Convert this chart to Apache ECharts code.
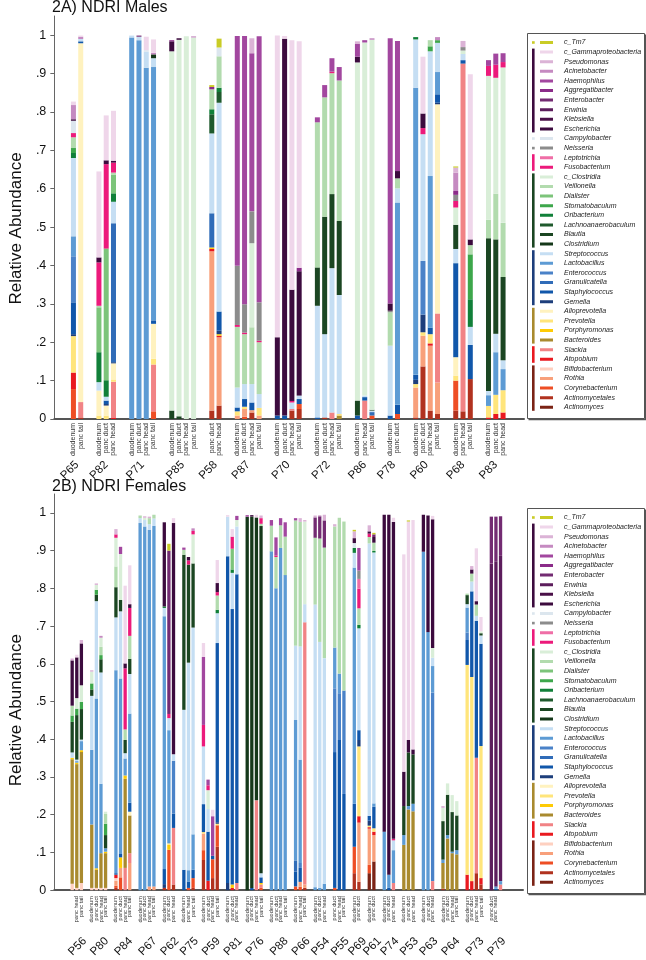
<!DOCTYPE html>
<html><head><meta charset="utf-8">
<script src="https://cdn.jsdelivr.net/npm/echarts@6/dist/echarts.min.js"></script>
<style>html,body{margin:0;padding:0;background:#fff}#c{width:646px;height:960px}</style>
</head><body><div id="c"></div>
<script>
// ---------- taxa (legend order, top of stack first) ----------
const taxa = ['c_Tm7','c_Gammaproteobacteria','Pseudomonas','Acinetobacter','Haemophilus','Aggregatibacter','Enterobacter','Erwinia','Klebsiella','Escherichia','Campylobacter','Neisseria','Leptotrichia','Fusobacterium','c_Clostridia','Veillonella','Dialister','Stomatobaculum','Oribacterium','Lachnoanaerobaculum','Blautia','Clostridium','Streptococcus','Lactobacillus','Enterococcus','Granulicatella','Staphylococcus','Gemella','Alloprevotella','Prevotella','Porphyromonas','Bacteroides','Slackia','Atopobium','Bifidobacterium','Rothia','Corynebacterium','Actinomycetales','Actinomyces'];
const codes = ['Tm7','Gam','Pse','Aci','Hae','Agg','Ent','Erw','Kle','Esc','Cam','Nei','Lep','Fus','cCl','Vei','Dia','Sto','Ori','Lch','Bla','Clo','Str','Lcb','Enc','Gra','Sta','Gem','All','Pre','Por','Bac','Sla','Ato','Bif','Rot','Cor','Amy','Act'];
const colors = ['#c9cc26','#efd6ea','#dbb3d6','#c58ac1','#a2479f','#8b2b89','#732b72','#5c1d5c','#4a1048','#3c0b3e','#dce6ee','#8c8c8c','#ef6ea6','#ec1a7b','#d9eed8','#b2dbae','#7cc47a','#3da74b','#118039','#1f5a2d','#1b4622','#15381a','#c5def3','#5d9bd4','#4a82c8','#306cb8','#1157aa','#1d3e7b','#fff2bf','#ffe57b','#fecb05','#a98a2e','#f18385','#e9191f','#fed0c0','#f8a07b','#ee4e25','#b1321f','#7b2315'];
const yTicks = [0,0.1,0.2,0.3,0.4,0.5,0.6,0.7,0.8,0.9,1];

// ---------- 2A) Males ----------
const maleSamples = ['P65','P82','P71','P85','P58','P87','P70','P72','P86','P78','P60','P68','P83'];
const maleTissues = [
 ['duodenum','panc tail'],
 ['duodenum','panc duct','panc head'],
 ['duodenum','panc duct','panc head','panc tail'],
 ['duodenum','panc duct','panc head','panc tail'],
 ['panc duct','panc head'],
 ['duodenum','panc duct','panc head','panc tail'],
 ['duodenum','panc duct','panc head','panc tail'],
 ['duodenum','panc duct','panc head','panc tail'],
 ['duodenum','panc head','panc tail'],
 ['duodenum','panc duct'],
 ['duodenum','panc duct','panc head','panc tail'],
 ['duodenum','panc head','panc tail'],
 ['duodenum','panc duct','panc head']
];
const maleValues = [
 [{Cor:.078,Ato:.043,Pre:.095,Gem:.005,Sta:.083,Enc:.12,Lcb:.052,Str:.204,Ori:.013,Sto:.013,Vei:.028,Fus:.011,Cam:.032,Esc:.004,Aci:.037,Gam:.009},
  {Amy:.004,Sla:.04,All:.935,Sta:.005,Str:.006,Aci:.006,Gam:.003}],
 [{Pre:.009,All:.065,Str:.022,Ori:.078,Dia:.117,Vei:.004,Fus:.113,Esc:.013,Gam:.224},
  {Pre:.009,All:.026,Gem:.004,Sta:.009,Str:.01,Ori:.043,Dia:.343,Fus:.22,Esc:.01,Gam:.117},
  {Ato:.004,Sla:.093,Pre:.006,All:.042,Gem:.003,Gra:.362,Str:.056,Ori:.022,Dia:.048,Vei:.006,Fus:.026,Esc:.005,Gam:.13}],
 [{Lcb:.994,Str:.005},
  {Lcb:.987,Str:.009,Ent:.003},
  {Lcb:.915,Str:.042,Cam:.004,Gam:.035},
  {Cor:.02,Sla:.122,Pre:.015,All:.091,Sta:.009,Lcb:.66,Str:.023,Clo:.01,Aci:.004,Gam:.035}],
 [{Bla:.022,cCl:.936,Esc:.026,Agg:.003},
  {Bla:.007,cCl:.981,Esc:.004},
  {cCl:.997},
  {cCl:.994,Aci:.003}],
 [{Amy:.022,Rot:.415,Ato:.006,Por:.004,Gra:.089,Str:.208,Lch:.05,Ori:.013,Vei:.052,Agg:.006,Tm7:.005},
  {Amy:.035,Rot:.178,Ato:.004,Por:.004,Gem:.009,Sta:.05,Str:.544,Lch:.028,Ori:.011,Vei:.082,Cam:.023,Tm7:.023}],
 [{Rot:.009,Pre:.011,Sta:.01,Str:.052,Vei:.158,Fus:.005,Nei:.154,Hae:.599},
  {Cor:.006,Rot:.02,Pre:.006,Sta:.02,Str:.039,Vei:.13,Fus:.004,Nei:.074,Hae:.699},
  {Amy:.017,Rot:.006,Sta:.02,Str:.048,Vei:.148,cCl:.219,Nei:.083,Hae:.412,Pse:.039},
  {Rot:.009,Pre:.02,Str:.036,Vei:.135,Fus:.004,Nei:.1,Hae:.693}],
 [{Sta:.009,Esc:.204,Gam:.786},
  {Sta:.009,Esc:.982,Gam:.007},
  {Amy:.022,Sla:.004,Str:.017,Fus:.004,Esc:.29,Gam:.65},
  {Amy:.026,Cor:.013,Sta:.013,Str:.009,Esc:.324,Agg:.009,Gam:.59}],
 [{Sta:.004,Str:.291,Bla:.1,Vei:.378,Hae:.013},
  {Amy:.004,Str:.217,Bla:.306,Vei:.311,Hae:.032},
  {Sla:.017,Str:.376,Bla:.193,Vei:.315,Fus:.004,Hae:.035},
  {Bac:.009,Pre:.004,Str:.31,Bla:.193,Vei:.366,Hae:.035}],
 [{Sta:.009,Bla:.039,cCl:.881,Esc:.015,Hae:.033,Pse:.007},
  {Sla:.048,Sta:.009,Str:.004,cCl:.92,Hae:.006},
  {Cor:.009,Gra:.009,Str:.004,Clo:.002,cCl:.964,Aci:.004}],
 [{Sta:.009,Str:.182,Vei:.087,Nei:.004,Esc:.019,Hae:.691},
  {Cor:.013,Sta:.024,Lcb:.527,Str:.037,Vei:.026,Esc:.019,Hae:.339}],
 [{Amy:.004,Rot:.078,Pre:.009,Gem:.011,Sta:.013,Lcb:.748,Str:.126,Ori:.006},
  {Amy:.137,Rot:.08,Pre:.009,Gem:.046,Enc:.14,Str:.33,Fus:.016,Esc:.038,Gam:.148},
  {Amy:.022,Rot:.169,Ato:.006,Pre:.024,Sta:.017,Lcb:.395,Str:.325,Sto:.013,Vei:.016},
  {Amy:.013,Rot:.082,Sla:.18,All:.545,Gem:.004,Sta:.022,Lcb:.058,Str:.076,Sto:.007,Aci:.008}],
 [{Amy:.022,Cor:.078,Pre:.013,All:.048,Sta:.245,Str:.037,Bla:.063,cCl:.045,Fus:.017,Nei:.016,Agg:.01,Aci:.048,Pse:.013,Tm7:.003},
  {Amy:.02,Sla:.906,Sta:.009,Str:.016,cCl:.009,Nei:.009,Pse:.016},
  {Amy:.104,Sta:.089,Str:.047,Ori:.072,Sto:.117,Vei:.024,Esc:.015,Gam:.43}],
 [{Ato:.004,Pre:.03,Lcb:.028,Str:.011,Bla:.398,Vei:.048,cCl:.375,Fus:.026,Hae:.015},
  {Ato:.013,Pre:.05,Lcb:.111,Str:.048,Bla:.246,Vei:.119,cCl:.302,Fus:.034,Hae:.029},
  {Ato:.017,Pre:.058,Lcb:.055,Str:.023,Bla:.217,Vei:.141,cCl:.405,Fus:.014,Hae:.023}]
];

// ---------- 2B) Females ----------
const femaleSamples = ['P56','P80','P84','P67','P62','P75','P59','P81','P76','P88','P66','P54','P55','P69','P61','P74','P53','P63','P64','P73','P79'];
const femaleTissues = [
 ['panc duct','panc head','panc tail'],
 ['duodenum','panc duct','panc head','panc tail'],
 ['duodenum','panc duct','panc head','panc tail'],
 ['duodenum','panc duct','panc head','panc tail'],
 ['duodenum','panc duct','panc head'],
 ['duodenum','panc head','panc tail'],
 ['duodenum','panc duct','panc head','panc tail'],
 ['duodenum','panc duct','panc head'],
 ['duodenum','panc duct','panc head','panc tail'],
 ['duodenum','panc duct','panc head','panc tail'],
 ['duodenum','panc head','panc tail'],
 ['duodenum','panc duct','panc head'],
 ['panc duct','panc head','panc tail'],
 ['duodenum','panc duct'],
 ['duodenum','panc duct'],
 ['duodenum','panc duct','panc head'],
 ['duodenum','panc duct','panc head'],
 ['duodenum','panc duct','panc head'],
 ['duodenum','panc duct','panc head','panc tail'],
 ['duodenum','panc duct','panc head','panc tail'],
 ['panc duct','panc head','panc tail']
];
const femaleValues = [
 [{Bif:.017,Bac:.33,Por:.004,Str:.014,Bla:.081,Sto:.017,Vei:.026,Esc:.12,Pse:.005},
  {Bif:.006,Bac:.328,Por:.004,Lcb:.004,Str:.004,Bla:.118,Sto:.017,cCl:.028,Esc:.108,Gam:.007},
  {Bif:.019,Bac:.347,Por:.005,Lcb:.024,Str:.004,Bla:.081,Sto:.019,cCl:.044,Esc:.111,Pse:.009}],
 [{Bif:.006,Bac:.168,Lcb:.198,Str:.143,Bla:.017,Sto:.016,cCl:.031,Pse:.004},
  {Bif:.006,Bac:.048,Por:.004,Lcb:.45,Str:.258,Bla:.017,Sto:.013,cCl:.013,Pse:.004},
  {Bif:.006,Bac:.092,Lcb:.184,Str:.295,Bla:.035,Sto:.011,Vei:.022,cCl:.024,Aci:.005},
  {Bif:.006,Bac:.092,Por:.004,Lcb:.009,Bla:.035,Sto:.03,Vei:.026,cCl:.006}],
 [{Amy:.006,Cor:.006,Rot:.013,Bif:.007,Ato:.009,Sta:.004,Lcb:.538,Str:.14,Bla:.08,Vei:.055,cCl:.076,Fus:.009,Pse:.014},
  {Cor:.034,Rot:.025,Por:.028,Sta:.009,Lcb:.465,Str:.178,Bla:.03,cCl:.122,Hae:.019},
  {Sla:.059,Bac:.236,Por:.009,Lcb:.045,Str:.014,Bla:.035,Vei:.028,Fus:.162,Esc:.013,Gam:.206},
  {Rot:.072,Sla:.026,Bac:.1,All:.01,Sta:.024,Lcb:.236,Str:.105,Bla:.04,Vei:.061,Fus:.074,Esc:.01,Gam:.103}],
 [{Lcb:.973,Str:.013,Vei:.007},
  {Lcb:.964,Str:.017,cCl:.006,Pse:.004},
  {Rot:.01,Lcb:.945,Str:.015,Vei:.016,Pse:.004},
  {Rot:.01,Lcb:.956,Str:.019,Vei:.01}],
 [{Amy:.006,Gem:.01,Sta:.04,Lcb:.67,Str:.022,Ori:.004,Esc:.223},
  {Cor:.107,Por:.013,Pre:.004,Lcb:.3,Str:.032,Fus:.011,Ent:.433,Tm7:.018},
  {Amy:.015,Sla:.15,Sta:.038,Enc:.14,Str:.017,Esc:.613,Gam:.013}],
 [{Sta:.054,Str:.424,Bla:.411,Vei:.013,Hae:.006},
  {Cor:.006,Sta:.017,Lcb:.03,Str:.55,Bla:.26,Fus:.011,Esc:.009},
  {Amy:.006,Cor:.026,Sta:.022,Lcb:.094,Str:.548,Bla:.17,cCl:.077,Fus:.009,Aci:.007}],
 [{Amy:.08,Cor:.026,Rot:.044,Pre:.004,Sta:.074,Str:.153,Fus:.057,Hae:.18,Gam:.037},
  {Ato:.025,Sta:.13,Str:.06,cCl:.05,Fus:.013,Hae:.015},
  {Amy:.032,Cor:.05,Sta:.009,Hae:.105,Gam:.017},
  {Amy:.115,Cor:.057,Pre:.004,Gem:.004,Sta:.475,Str:.079,Ori:.009,Vei:.038,Fus:.009,Esc:.024,Gam:.061}],
 [{Gem:.019,Sta:.866,Str:.105,Gam:.004},
  {Ato:.006,Por:.009,Sta:.73,Str:.096,Ori:.009,Dia:.055,Fus:.032,Gam:.02},
  {Sla:.019,Sta:.818,Str:.127,cCl:.017,Hae:.011}],
 [{Clo:.99,Hae:.004},
  {Sta:.006,Clo:.984,Esc:.004},
  {Sla:.238,Clo:.75,Gam:.007},
  {Cor:.006,Sla:.009,Por:.004,Sta:.015,Str:.011,Clo:.92,Vei:.006,Fus:.015,Pse:.007}],
 [{Lcb:.898,Vei:.068,Hae:.015},
  {Lcb:.8,Vei:.083,Fus:.004,Hae:.048},
  {Lcb:.907,Vei:.06,Hae:.019},
  {Lcb:.835,Vei:.102,Hae:.038}],
 [{Cor:.01,Sta:.039,Gra:.03,Lcb:.372,Str:.197,Vei:.332,Hae:.006},
  {Cor:.009,Rot:.013,Sta:.037,Enc:.013,Lcb:.274,Str:.3,Vei:.33,Pse:.01},
  {Amy:.006,Rot:.009,Sla:.695,Str:.048,cCl:.219,Pse:.004}],
 [{Lcb:.008,Str:.749,Vei:.177,Ent:.054,Pse:.005},
  {Lcb:.006,Str:.652,Vei:.274,Ent:.059,Pse:.003},
  {Lcb:.017,Str:.598,Vei:.293,Ent:.072,Pse:.015}],
 [{Cor:.006,Sta:.36,Enc:.169,Lcb:.108,Vei:.321,Pse:.006},
  {Sta:.398,Enc:.124,Lcb:.052,Vei:.413},
  {Sta:.255,Enc:.274,Vei:.448}],
 [{Amy:.045,Cor:.07,Sta:.114,Lcb:.626,Str:.039,Ori:.013,Cam:.013,Esc:.013,Pse:.018,Tm7:.004},
  {Amy:.022,Rot:.157,Ato:.017,Pre:.185,Gem:.017,Sta:.026,Str:.27,Ori:.009,Vei:.044,Fus:.052,Lep:.026,Nei:.022,Hae:.06}],
 [{Act:.045,Cor:.022,Rot:.096,Ato:.004,Pre:.004,Gem:.013,Sta:.013,Str:.722,Vei:.017,Fus:.009,Esc:.006,Pse:.016},
  {Act:.076,Rot:.07,Ato:.009,Pre:.009,Sta:.057,Lcb:.009,Str:.665,Ori:.004,Vei:.022,Esc:.015,Ent:.007,Tm7:.004}],
 [{Lcb:.155,Esc:.84},
  {Sta:.006,Lcb:.035,Esc:.954},
  {Sla:.019,Lcb:.087,Str:.026,Fus:.004,Esc:.84,Gam:.011}],
 [{Bac:.12,Lcb:.026,Bla:.077,Esc:.091,Gam:.576},
  {Bac:.214,Lcb:.009,Bla:.142,Esc:.033,Gam:.579,Tm7:.003},
  {Bac:.209,Lcb:.02,Bla:.131,Esc:.013,Gam:.608}],
 [{Lcb:.897,Esc:.098},
  {Lcb:.684,Esc:.309},
  {Sla:.024,Enc:.5,Lcb:.07,Str:.022,cCl:.026,Esc:.341,Gam:.009}],
 [{Amy:.004,Bac:.068,Lcb:.009,Bla:.102,cCl:.035,Pse:.005},
  {Bac:.137,Lcb:.009,Bla:.107,cCl:.03},
  {Bac:.098,Lcb:.004,Bla:.105,cCl:.045},
  {Bac:.095,Lcb:.011,Bla:.092,cCl:.038}],
 [{Ato:.041,Pre:.556,Sta:.066,Enc:.02,Lcb:.066,Str:.009,Bla:.024,Vei:.004},
  {Ato:.024,Pre:.541,Sta:.227,Str:.026,Vei:.021,Esc:.011,Pse:.009},
  {Amy:.045,Sla:.306,Sta:.363,Str:.013,Vei:.03,Esc:.009,Gam:.14},
  {Amy:.015,Ato:.017,Pre:.35,Sta:.271,Str:.022,Bla:.006,cCl:.005,Gam:.038}],
 [{Ent:.124,Erw:.866},
  {Sta:.004,Lcb:.006,Ent:.118,Erw:.862},
  {Sla:.015,Lcb:.009,Ent:.105,Erw:.862}]
];

// ---------- layout helpers ----------
const FONT = '"Liberation Sans", Arial, sans-serif';
function build(samples, tissues, values, lay) {
  const cats = [], tissueLab = [], sampleLab = [], barVals = [];
  const push = (t, v) => { cats.push('c' + cats.length); tissueLab.push(t); sampleLab.push(''); barVals.push(v); };
  for (let i = 0; i < lay.lead; i++) push('', null);
  samples.forEach((s, gi) => {
    if (gi > 0) for (let k = 0; k < lay.gap - 1; k++) push('', null);
    const start = cats.length;
    tissues[gi].forEach((t, bi) => {
      if (bi > 0) for (let k = 0; k < lay.step - 1; k++) push('', null);
      push(t, values[gi][bi]);
    });
    const n = tissues[gi].length;
    sampleLab[start + lay.step * (n - 1) / 2 + lay.shift] = s;
  });
  for (let i = 0; i < lay.trail; i++) push('', null);
  while (sampleLab.length < cats.length) sampleLab.push('');
  return { cats, tissueLab, sampleLab, barVals };
}

const panels = [
  { d: build(maleSamples, maleTissues, maleValues, {lead:10, step:4, gap:10, trail:11, shift:0}),
    grid: {left:41, top:16, width:483, height:403}, barWidth:5, tFont:7, tMargin:4, sOffset:42, sFont:11.5, namePad:22 },
  { d: build(femaleSamples, femaleTissues, femaleValues, {lead:15, step:4, gap:9, trail:19, shift:7}),
    grid: {left:41, top:494, width:482, height:400}, barWidth:3.3, tFont:5.6, tMargin:6, sOffset:47, sFont:11.5, namePad:36 }
];

const grids = [], xAxes = [], yAxes = [], series = [];
panels.forEach((p, pi) => {
  grids.push(p.grid);
  const d = p.d;
  xAxes.push({
    type:'category', gridIndex:pi, data:d.cats, boundaryGap:true,
    axisLine:{show:true, lineStyle:{color:'#555', width:2}}, axisTick:{show:false},
    axisLabel:{rotate:90, fontSize:p.tFont, color:'#333', fontFamily:FONT, margin:p.tMargin,
      interval:(i)=>d.tissueLab[i] !== '', formatter:(v, i)=>d.tissueLab[i]}
  });
  xAxes.push({
    type:'category', gridIndex:pi, data:d.cats, boundaryGap:true, position:'bottom', offset:p.sOffset,
    axisLine:{show:false}, axisTick:{show:false},
    axisLabel:{rotate:45, fontSize:p.sFont, color:'#111', fontFamily:FONT, margin:2,
      interval:(i)=>d.sampleLab[i] !== '', formatter:(v, i)=>d.sampleLab[i]}
  });
  yAxes.push({
    type:'value', gridIndex:pi, min:0, max:1.05, splitLine:{show:false},
    axisLine:{show:true, lineStyle:{color:'#666', width:1}},
    axisTick:{show:true, length:4, lineStyle:{color:'#666'}, customValues:yTicks},
    axisLabel:{customValues:yTicks, fontSize:12.5, color:'#111', fontFamily:FONT, margin:8,
      formatter:(v)=> v === 0 ? '0' : (v >= 0.999 ? '1' : v.toFixed(1).replace(/^0/, ''))},
    name:'Relative Abundance', nameLocation:'middle', nameGap:20,
    nameTextStyle:{fontSize:17, color:'#111', fontFamily:FONT, padding:[0,p.namePad,0,0]}
  });
  for (let ti = taxa.length - 1; ti >= 0; ti--) {
    const code = codes[ti];
    series.push({
      type:'bar', name:taxa[ti], xAxisIndex:pi*2, yAxisIndex:pi, stack:'s'+pi,
      barWidth:p.barWidth, itemStyle:{color:colors[ti]},
      data:d.barVals.map(v => (v && v[code] != null) ? v[code] : null)
    });
  }
});

// legend decorations
const legendTops = [33, 508];
const legendPitch = 9.6;
const legendGroups = [[0,0,'#c9cc26'],[1,9,'#3c0b3e'],[10,10,'#dce6ee'],[11,11,'#8c8c8c'],[12,13,'#ec1a7b'],[14,21,'#1b4622'],[22,27,'#1d3e7b'],[28,31,'#a98a2e'],[32,33,'#e9191f'],[34,38,'#7b2315']];
const graphics = [];
legendTops.forEach(top => {
  graphics.push({type:'rect', shape:{x:527.5, y:top+0.5, width:117, height:385}, style:{fill:'none', stroke:'#555', lineWidth:1}, z:10});
  graphics.push({type:'polyline', shape:{points:[[645.5,top+1.5],[645.5,top+386.5],[528.5,top+386.5]]}, style:{fill:'none', stroke:'#555', lineWidth:1.5}, z:10});
  legendGroups.forEach(g => {
    const ya = top + 9.5 + g[0]*legendPitch, yb = top + 9.5 + g[1]*legendPitch;
    if (g[0] === g[1]) graphics.push({type:'rect', shape:{x:532, y:ya-1.3, width:2.7, height:2.6}, style:{fill:g[2]}, z:10});
    else graphics.push({type:'rect', shape:{x:532, y:ya-3.5, width:2.6, height:yb-ya+7}, style:{fill:g[2]}, z:10});
  });
});

const legendIcon = 'path://M0,0H13V3H0Z M18.95,1.45H19V1.5H18.95Z';
const legends = legendTops.map(top => ({
  left:527, top:top, orient:'vertical', data:taxa, icon:legendIcon, itemWidth:19, itemHeight:3,
  itemGap:0.6, padding:[5,8,5,13], selectedMode:false,
  textStyle:{fontSize:7, lineHeight:9, fontStyle:'italic', color:'#222', fontFamily:FONT}
}));

const chart = echarts.init(document.getElementById('c'), null, {renderer:'canvas'});
chart.setOption({
  animation:false,
  backgroundColor:'#fff',
  title:[
    {text:'2A) NDRI Males', left:52, top:0, padding:0, textStyle:{fontSize:16, fontWeight:'normal', color:'#111', fontFamily:FONT}},
    {text:'2B) NDRI Females', left:52, top:479, padding:0, textStyle:{fontSize:16, fontWeight:'normal', color:'#111', fontFamily:FONT}}
  ],
  legend:legends,
  grid:grids, xAxis:xAxes, yAxis:yAxes, series:series,
  graphic:graphics
});
</script></body></html>
